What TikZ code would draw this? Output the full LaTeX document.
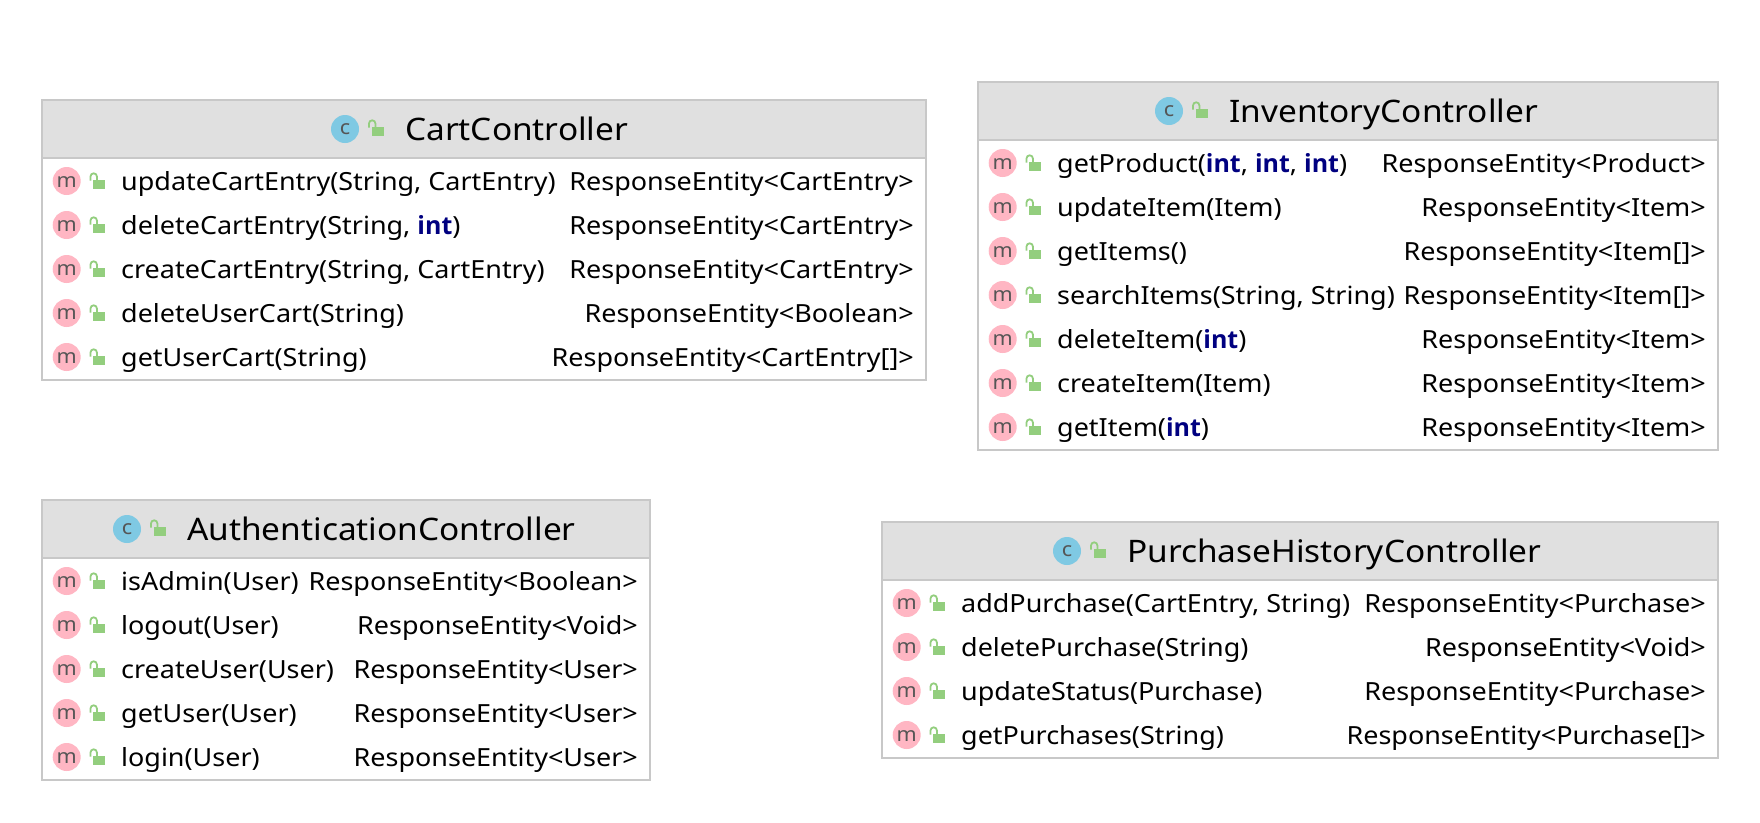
\documentclass[tikz,border=0pt]{standalone}
\usepackage{fontspec}
\setmainfont[FakeStretch=1.078]{Noto Sans}
\newfontfamily\titlefont[FakeStretch=1.078]{Noto Sans}
\newfontfamily\kwfont{Open Sans}
\definecolor{hdr}{HTML}{E0E0E0}
\definecolor{bord}{HTML}{C8C8C8}
\definecolor{pinkm}{HTML}{FFB6C3}
\definecolor{bluec}{HTML}{7FC9E3}
\definecolor{lockg}{HTML}{93CE7E}
\definecolor{glyph}{HTML}{555555}
\definecolor{kw}{HTML}{000080}
\newcommand{\kwd}[1]{\textcolor{kw}{\kwfont\bfseries #1}}
\tikzset{
  boxbody/.style={draw=bord,line width=1.6pt,fill=white,anchor=north west,inner sep=0,outer sep=0,minimum height=#1},
  methtext/.style={anchor=base west,inner sep=0,font=\fontsize{25}{29}\selectfont,text=black},
  rettext/.style={anchor=base east,inner sep=0,font=\fontsize{25}{29}\selectfont,text=black},
  titletext/.style={anchor=base west,inner sep=0,font=\titlefont\fontsize{31}{36}\selectfont,text=black},
  badge/.style={circle,inner sep=0,minimum size=28pt},
  badgeglyph/.style={text=glyph,font=\fontsize{#1}{#1}\selectfont},
}
% lock icon: x = left of shackle, y = row centre
\newcommand{\lockicon}[2]{%
  \fill[lockg] (#1+3.5,#2-1.5) rectangle (#1+15.5,#2+8);
  \draw[lockg,line width=1.8pt] (#1+1,#2-0.5) -- (#1+1,#2-4.5) arc[start angle=180,end angle=360,radius=3.2] -- (#1+7.4,#2-1);
}
% name, left edge of box, y, right end of return text, method, return
\newcommand{\methrow}[6]{%
  \node[badge,fill=pinkm] (#1i) at (#2+24.7,#3) {};
  \node[badgeglyph=20,inner sep=0] (#1g) at (#2+24.7,#3+1) {m};
  \lockicon{#2+47.5}{#3}
  \node[methtext] (#1m) at (#2+79,#3+9.5) {#5};
  \node[rettext] (#1r) at (#4,#3+9.5) {#6};
}
% name, x,y of box, width, total height; title x, circle x, title
\newcommand{\classbox}[8]{%
  \node[boxbody=#5,minimum width=#4] (#1) at (#2,#3) {};
  \fill[hdr] (#2+0.8,#3+0.8) rectangle (#2+#4-0.8,#3+58);
  \draw[bord,line width=1.6pt] (#2,#3+58) -- (#2+#4,#3+58);
  \node[badge,fill=bluec] (#1c) at (#7,#3+29) {};
  \node[badgeglyph=20,inner sep=0] (#1cg) at (#7,#3+29) {c};
  \lockicon{#7+23}{#3+28}
  \node[titletext] (#1t) at (#6,#3+40.5) {#8};
}
\begin{document}
\begin{tikzpicture}[x=1pt,y=-1pt]
\useasboundingbox (0,0) rectangle (1760,822);
\fill[white] (0,0) rectangle (1760,822);
% Cart
\classbox{cart}{42}{100}{884}{280}{405}{345}{CartController}
\methrow{c1}{42}{181}{914}{updateCartEntry(String, CartEntry)}{ResponseEntity<CartEntry>}
\methrow{c2}{42}{225}{914}{deleteCartEntry(String, \kwd{int})}{ResponseEntity<CartEntry>}
\methrow{c3}{42}{269}{914}{createCartEntry(String, CartEntry)}{ResponseEntity<CartEntry>}
\methrow{c4}{42}{313}{914}{deleteUserCart(String)}{ResponseEntity<Boolean>}
\methrow{c5}{42}{357}{914}{getUserCart(String)}{ResponseEntity<CartEntry[]>}
% Inventory
\classbox{inv}{978}{82}{740}{368}{1229}{1169}{InventoryController}
\methrow{i1}{978}{163}{1706}{getProduct(\kwd{int}, \kwd{int}, \kwd{int})}{ResponseEntity<Product>}
\methrow{i2}{978}{207}{1706}{updateItem(Item)}{ResponseEntity<Item>}
\methrow{i3}{978}{251}{1706}{getItems()}{ResponseEntity<Item[]>}
\methrow{i4}{978}{295}{1706}{searchItems(String, String)}{ResponseEntity<Item[]>}
\methrow{i5}{978}{339}{1706}{deleteItem(\kwd{int})}{ResponseEntity<Item>}
\methrow{i6}{978}{383}{1706}{createItem(Item)}{ResponseEntity<Item>}
\methrow{i7}{978}{427}{1706}{getItem(\kwd{int})}{ResponseEntity<Item>}
% Auth
\classbox{auth}{42}{500}{608}{280}{187}{127}{AuthenticationController}
\methrow{a1}{42}{581}{638}{isAdmin(User)}{ResponseEntity<Boolean>}
\methrow{a2}{42}{625}{638}{logout(User)}{ResponseEntity<Void>}
\methrow{a3}{42}{669}{638}{createUser(User)}{ResponseEntity<User>}
\methrow{a4}{42}{713}{638}{getUser(User)}{ResponseEntity<User>}
\methrow{a5}{42}{757}{638}{login(User)}{ResponseEntity<User>}
% Purchase
\classbox{pur}{882}{522}{836}{236}{1127}{1067}{PurchaseHistoryController}
\methrow{p1}{882}{603}{1706}{addPurchase(CartEntry, String)}{ResponseEntity<Purchase>}
\methrow{p2}{882}{647}{1706}{deletePurchase(String)}{ResponseEntity<Void>}
\methrow{p3}{882}{691}{1706}{updateStatus(Purchase)}{ResponseEntity<Purchase>}
\methrow{p4}{882}{735}{1706}{getPurchases(String)}{ResponseEntity<Purchase[]>}
\end{tikzpicture}
\end{document}
